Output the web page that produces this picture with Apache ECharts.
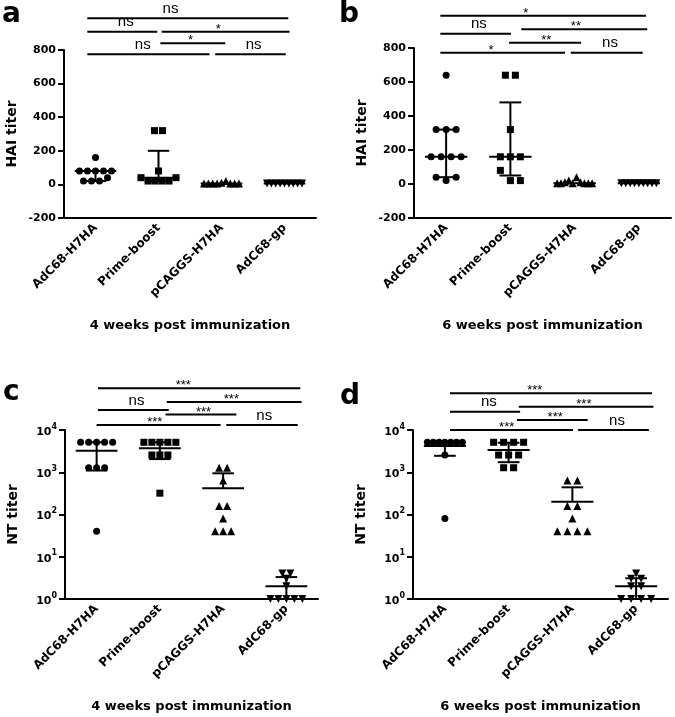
<!DOCTYPE html>
<html><head><meta charset="utf-8">
<script src="https://cdn.jsdelivr.net/npm/echarts@6.0.0/dist/echarts.min.js"></script>
<style>html,body{margin:0;padding:0;background:#fff}#c{width:675px;height:717px}</style>
</head><body><div id="c"></div>
<script>
// ---------- data ----------
const categories = ['AdC68-H7HA', 'Prime-boost', 'pCAGGS-H7HA', 'AdC68-gp'];
const haiTicks = [-200, 0, 200, 400, 600, 800];
const ntTicks = [1, 10, 100, 1000, 10000];
const titles = ['4 weeks post immunization', '6 weeks post immunization', '4 weeks post immunization', '6 weeks post immunization'];
const panelLetters = ['a', 'b', 'c', 'd'];

// Panel a: HAI titer, 4 weeks
const a_H7HA = [160, 80, 80, 80, 80, 80, 20, 20, 20, 40];
const a_PB = [320, 320, 80, 40, 20, 20, 20, 20, 40];
const a_pC = [5, 5, 5, 5, 10, 20, 5, 5, 5];
const a_gp = [5, 5, 5, 5, 5, 5, 5, 5, 5];
const a_center = [80, 40, 5, 5];
const a_low = [20, 20, 5, 5];
const a_high = [80, 200, 5, 5];
// significance brackets: start (category units), end, height (axis units), label position
const a_brStart = [-0.13, -0.13, 1.05, 1.03, -0.13, 1.90];
const a_brEnd = [3.06, 0.98, 3.08, 2.06, 1.81, 3.02];
const a_brY = [989, 909, 909, 840, 774, 774];
const a_brLabX = [1.19, 0.48, 1.95, 1.51, 0.75, 2.51];
const a_brLab = ['ns', 'ns', '*', '*', 'ns', 'ns'];

// Panel b: HAI titer, 6 weeks
const b_H7HA = [640, 320, 320, 320, 160, 160, 160, 160, 40, 20, 40];
const b_PB = [640, 640, 320, 160, 160, 160, 80, 20, 20];
const b_pC = [5, 5, 10, 20, 5, 40, 10, 5, 5, 5];
const b_gp = [5, 5, 5, 5, 5, 5, 5, 5, 5];
const b_center = [160, 160, 5, 5];
const b_low = [40, 50, 5, 5];
const b_high = [320, 480, 5, 5];
const b_brStart = [-0.09, -0.09, 1.17, 0.98, -0.09, 1.94];
const b_brEnd = [3.11, 1.01, 3.13, 2.10, 1.85, 3.06];
const b_brY = [990, 884, 910, 831, 772, 772];
const b_brLabX = [1.24, 0.51, 2.02, 1.56, 0.70, 2.55];
const b_brLab = ['*', 'ns', '**', '**', '*', 'ns'];

// Panel c: NT titer, 4 weeks
const c_H7HA = [5120, 5120, 5120, 5120, 5120, 1280, 1280, 1280, 40];
const c_PB = [5120, 5120, 5120, 5120, 5120, 2560, 2560, 2560, 320];
const c_pC = [1280, 1280, 640, 160, 160, 80, 40, 40, 40];
const c_gp = [4, 4, 3, 2, 1, 1, 1, 1, 1];
const c_center = [3240, 3700, 416, 2];
const c_low = [1100, 2050, 416, 1];
const c_high = [5120, 5120, 944, 3.3];
const c_brStart = [0.02, 1.11, 0.02, 1.09, 0.0, 2.05];
const c_brEnd = [3.22, 3.24, 1.14, 2.21, 1.96, 3.18];
const c_brY = [97000, 46000, 29700, 23300, 13100, 13100];
const c_brLabX = [1.37, 2.13, 0.63, 1.69, 0.92, 2.65];
const c_brLab = ['***', '***', 'ns', '***', '***', 'ns'];

// Panel d: NT titer, 6 weeks
const d_H7HA = [5120, 5120, 5120, 5120, 5120, 5120, 5120, 2560, 80];
const d_PB = [5120, 5120, 5120, 5120, 2560, 2560, 2560, 1280, 1280];
const d_pC = [640, 640, 160, 160, 80, 40, 40, 40, 40];
const d_gp = [4, 3, 3, 2, 2, 1, 1, 1, 1];
const d_center = [4200, 3380, 200, 2];
const d_low = [2450, 1730, 200, 1];
const d_high = [5120, 5000, 440, 3.1];
const d_brStart = [0.08, 1.16, 0.08, 1.13, 0.08, 2.09];
const d_brEnd = [3.25, 3.27, 1.18, 2.24, 2.01, 3.20];
const d_brY = [74000, 35600, 27100, 17200, 10000, 10000];
const d_brLabX = [1.41, 2.18, 0.69, 1.73, 0.97, 2.70];
const d_brLab = ['***', '***', 'ns', '***', '***', 'ns'];

// ---------- layout / styles ----------
const panels = [
  {groups: [a_H7HA, a_PB, a_pC, a_gp], center: a_center, low: a_low, high: a_high,
   br: [a_brStart, a_brEnd, a_brY, a_brLabX, a_brLab], log: false, yName: 'HAI titer',
   grid: {left: 64, top: 50, width: 252, height: 168}, stepPx: 8, thrPx: 5},
  {groups: [b_H7HA, b_PB, b_pC, b_gp], center: b_center, low: b_low, high: b_high,
   br: [b_brStart, b_brEnd, b_brY, b_brLabX, b_brLab], log: false, yName: 'HAI titer',
   grid: {left: 414, top: 48, width: 257, height: 170}, stepPx: 10, thrPx: 11},
  {groups: [c_H7HA, c_PB, c_pC, c_gp], center: c_center, low: c_low, high: c_high,
   br: [c_brStart, c_brEnd, c_brY, c_brLabX, c_brLab], log: true, yName: 'NT titer',
   grid: {left: 65, top: 430, width: 253, height: 169}, stepPx: 8, thrPx: 5},
  {groups: [d_H7HA, d_PB, d_pC, d_gp], center: d_center, low: d_low, high: d_high,
   br: [d_brStart, d_brEnd, d_brY, d_brLabX, d_brLab], log: true, yName: 'NT titer',
   grid: {left: 413, top: 430, width: 255, height: 169}, stepPx: 10, thrPx: 5}
];
const letterPos = [{left: 2, top: 1}, {left: 339, top: 1}, {left: 3, top: 379}, {left: 340, top: 383}];
const symbols = [['circle', 0], ['rect', 0], ['triangle', 0], ['triangle', 180]];
const FONT = 'DejaVu Sans';
const SIGFONT = 'Liberation Sans, Arial, sans-serif';
const maxSpanPx = 35;

function spread(values, isLog, thrVal, stepCat, maxSpanCat) {
  const key = v => isLog ? Math.log10(v) : v;
  const bins = [];
  values.forEach((v, i) => {
    let b = bins.find(bb => Math.abs(key(v) - bb.ref) < thrVal);
    if (!b) { b = {ref: key(v), idx: []}; bins.push(b); }
    b.idx.push(i);
  });
  const off = new Array(values.length).fill(0);
  bins.forEach(b => {
    const n = b.idx.length;
    const step = n > 1 ? Math.min(stepCat, maxSpanCat / (n - 1)) : 0;
    b.idx.forEach((i, k) => { off[i] = (k - (n - 1) / 2) * step; });
  });
  return off;
}

const grids = [], xAxes = [], yAxes = [], series = [], titleArr = [];
const axisLineStyle = {color: '#000', width: 2};

panels.forEach((p, pi) => {
  grids.push(Object.assign({outerBoundsMode: 'none', containLabel: false}, p.grid));
  xAxes.push({
    type: 'category', gridIndex: pi, data: categories, position: 'bottom',
    axisLine: {onZero: false, lineStyle: axisLineStyle},
    axisTick: {alignWithLabel: true, length: 6, lineStyle: axisLineStyle},
    axisLabel: {rotate: 45, interval: 0, margin: 8, color: '#000', fontFamily: FONT, fontWeight: 'bold', fontSize: 12},
    splitLine: {show: false},
    name: titles[pi], nameLocation: 'middle', nameGap: 101,
    nameTextStyle: {color: '#000', fontFamily: FONT, fontWeight: 'bold', fontSize: 13}
  });
  xAxes.push({type: 'value', gridIndex: pi, min: -0.5, max: 3.5, show: false});
  const yBase = {
    gridIndex: pi,
    axisLine: {show: true, onZero: false, lineStyle: axisLineStyle},
    axisTick: {show: true, length: 6, lineStyle: axisLineStyle},
    splitLine: {show: false},
    name: p.yName, nameLocation: 'middle', nameGap: 45,
    nameTextStyle: {color: '#000', fontFamily: FONT, fontWeight: 'bold', fontSize: 14}
  };
  if (p.log) {
    yAxes.push(Object.assign(yBase, {
      type: 'log', logBase: 10, min: ntTicks[0], max: ntTicks[ntTicks.length - 1],
      minorTick: {show: false},
      axisLabel: {
        margin: 8, color: '#000',
        formatter: v => '{b|10}{s|' + Math.round(Math.log10(v)) + '}',
        rich: {
          b: {fontFamily: FONT, fontWeight: 'bold', fontSize: 11, lineHeight: 15, verticalAlign: 'bottom', color: '#000'},
          s: {fontFamily: FONT, fontWeight: 'bold', fontSize: 8, lineHeight: 8, verticalAlign: 'top', color: '#000'}
        }
      }
    }));
  } else {
    yAxes.push(Object.assign(yBase, {
      type: 'value', min: haiTicks[0], max: haiTicks[haiTicks.length - 1], interval: haiTicks[1] - haiTicks[0],
      axisLabel: {margin: 8, color: '#000', fontFamily: FONT, fontWeight: 'bold', fontSize: 11}
    }));
  }
  const band = p.grid.width / categories.length;
  const stepCat = p.stepPx / band, spanCat = maxSpanPx / band;
  const thrVal = p.log ? p.thrPx * 4 / p.grid.height : p.thrPx * (haiTicks[haiTicks.length - 1] - haiTicks[0]) / p.grid.height;

  p.groups.forEach((vals, gi) => {
    const off = spread(vals, p.log, thrVal, stepCat, spanCat);
    series.push({
      type: 'scatter', xAxisIndex: pi * 2 + 1, yAxisIndex: pi,
      symbol: symbols[gi][0], symbolRotate: symbols[gi][1], symbolSize: gi >= 2 ? 8 : 7,
      itemStyle: {color: '#000', opacity: 1}, silent: true, z: 3,
      data: vals.map((v, k) => [gi + off[k], v])
    });
  });
  // error bars (center line + whiskers)
  series.push({
    type: 'custom', xAxisIndex: pi * 2 + 1, yAxisIndex: pi, z: 4, silent: true,
    encode: {x: 0, y: [1, 2, 3]},
    data: categories.map((c, gi) => [gi, p.center[gi], p.low[gi], p.high[gi]]),
    renderItem: (params, api) => {
      const x = api.value(0);
      const c = api.coord([x, api.value(1)]);
      const lo = api.coord([x, api.value(2)]);
      const hi = api.coord([x, api.value(3)]);
      const bw = api.size([1, 0])[0];
      const st = {stroke: '#000', lineWidth: 2};
      const ch = [
        {type: 'line', shape: {x1: c[0] - 0.33 * bw, y1: c[1], x2: c[0] + 0.33 * bw, y2: c[1]}, style: st},
        {type: 'line', shape: {x1: c[0], y1: lo[1], x2: c[0], y2: hi[1]}, style: st}
      ];
      if (Math.abs(lo[1] - c[1]) > 0.5) ch.push({type: 'line', shape: {x1: c[0] - 0.17 * bw, y1: lo[1], x2: c[0] + 0.17 * bw, y2: lo[1]}, style: st});
      if (Math.abs(hi[1] - c[1]) > 0.5) ch.push({type: 'line', shape: {x1: c[0] - 0.17 * bw, y1: hi[1], x2: c[0] + 0.17 * bw, y2: hi[1]}, style: st});
      return {type: 'group', children: ch};
    }
  });
  // significance brackets
  const [bs, be, by, blx, blab] = p.br;
  series.push({
    type: 'custom', xAxisIndex: pi * 2 + 1, yAxisIndex: pi, z: 5, silent: true, clip: false,
    data: bs.map((s, k) => [s, be[k], by[k], blx[k]]),
    renderItem: (params, api) => {
      const y = api.value(2);
      const p1 = api.coord([api.value(0), y]);
      const p2 = api.coord([api.value(1), y]);
      const pl = api.coord([api.value(3), y]);
      const lab = blab[params.dataIndex];
      const star = lab.indexOf('*') >= 0;
      return {type: 'group', children: [
        {type: 'line', shape: {x1: p1[0], y1: p1[1], x2: p2[0], y2: p2[1]}, style: {stroke: '#000', lineWidth: 2}},
        {type: 'text', x: pl[0], y: pl[1] + (star ? 4 : -2),
         style: {text: lab, align: 'center', verticalAlign: 'bottom', fill: '#000',
                 fontFamily: SIGFONT, fontSize: star ? 13 : 15}}
      ]};
    }
  });
  titleArr.push(Object.assign({text: panelLetters[pi], padding: 0,
    textStyle: {fontFamily: FONT, fontWeight: 'bold', fontSize: 28, color: '#000'}}, letterPos[pi]));
});

const chart = echarts.init(document.getElementById('c'), null, {renderer: 'canvas'});
chart.setOption({
  animation: false, backgroundColor: '#fff',
  title: titleArr, grid: grids, xAxis: xAxes, yAxis: yAxes, series: series
});
</script></body></html>
